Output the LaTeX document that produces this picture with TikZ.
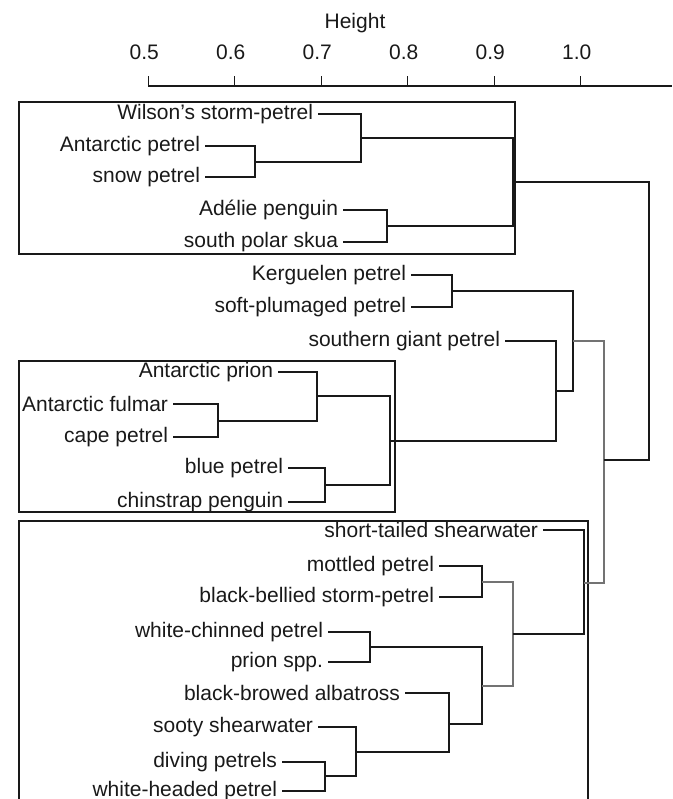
\documentclass[tikz,border=0pt]{standalone}
\usepackage{fontspec}
\setmainfont{Liberation Sans}
\usepackage{tikz}

\tikzset{
  leaf/.style={anchor=mid east, inner sep=0pt, outer xsep=5pt, yshift=-2.5pt, text=black!90,
    font=\fontsize{21}{25}\selectfont},
  den/.style={line width=1.9pt, draw=black!90},
  faint/.style={line width=1.1pt, draw=black!55},
  grp/.style={line width=2.4pt, draw=black!90},
}

\begin{document}
\begin{tikzpicture}[x=1pt, y=-1pt]
    \useasboundingbox (0,0) rectangle (672,799);
    \clip (0,0) rectangle (672,799);

    % axis
    \node[font=\fontsize{21}{25}\selectfont, text=black!90] (ttl) at (355,23) {Height};
    \draw[line width=1.8pt, black!90] (148.3,86) -- (672,86);
    \foreach \v [count=\i from 0] in {0.5,0.6,0.7,0.8,0.9,1.0} {
        \draw[line width=1.3pt, black!90] (148.3+86.5*\i,86) -- (148.3+86.5*\i,76);
        \node[font=\fontsize{21}{25}\selectfont, text=black!90] at (144.3+86.5*\i,52) {\v};
    }

    % boxes round the three groups
    \draw[grp] (19,102) rectangle (515,254);
    \draw[grp] (19,361) rectangle (395,512);
    \draw[grp] (19,521) rectangle (588,840);

    % leaves
    \node[leaf] (wsp) at (318,114) {Wilson’s storm-petrel};
    \node[leaf] (antp) at (205,146) {Antarctic petrel};
    \node[leaf] (snow) at (205,177) {snow petrel};
    \node[leaf] (adel) at (343,210) {Adélie penguin};
    \node[leaf] (skua) at (343,242) {south polar skua};
    \node[leaf] (kerg) at (411,275) {Kerguelen petrel};
    \node[leaf] (soft) at (411,307) {soft-plumaged petrel};
    \node[leaf] (sgp) at (505,341) {southern giant petrel};
    \node[leaf] (aprn) at (278,372) {Antarctic prion};
    \node[leaf] (fulm) at (173,406) {Antarctic fulmar};
    \node[leaf] (cape) at (173,437) {cape petrel};
    \node[leaf] (blue) at (288,468) {blue petrel};
    \node[leaf] (chin) at (288,502) {chinstrap penguin};
    \node[leaf] (sts) at (543,532) {short-tailed shearwater};
    \node[leaf] (mott) at (439,566) {mottled petrel};
    \node[leaf] (bbsp) at (439,597) {black-bellied storm-petrel};
    \node[leaf] (wcp) at (328,632) {white-chinned petrel};
    \node[leaf] (prion) at (328,662) {prion spp.};
    \node[leaf] (bba) at (405,695) {black-browed albatross};
    \node[leaf] (soot) at (318,727) {sooty shearwater};
    \node[leaf] (dive) at (282,762) {diving petrels};
    \node[leaf] (whp) at (282,791) {white-headed petrel};

    % junctions
    \coordinate (j1) at (255,162);
    \coordinate (j2) at (361,138);
    \coordinate (j4) at (387,226);
    \coordinate (j3) at (513,182);
    \coordinate (jE) at (452,291);
    \coordinate (jJ) at (218,421);
    \coordinate (jH) at (317,396);
    \coordinate (jI) at (325,485);
    \coordinate (jG) at (390,441);
    \coordinate (jF) at (556,391);
    \coordinate (jC) at (573,341);
    \coordinate (jL) at (482,582);
    \coordinate (jN) at (370,647);
    \coordinate (jQ) at (325,776);
    \coordinate (jP) at (356,752);
    \coordinate (jO) at (449,724);
    \coordinate (jM) at (482,686);
    \coordinate (jK) at (513,634);
    \coordinate (jD) at (584,583);
    \coordinate (jB) at (604,460);
    \coordinate (root) at (649,321);

    % top group
    \draw[den] (antp.east) -| (j1) |- (snow.east);
    \draw[den] (wsp.east) -| (j2) |- (j1);
    \draw[den] (adel.east) -| (j4) |- (skua.east);
    \draw[den] (j2) -| (j3) |- (j4);

    % middle group
    \draw[den] (kerg.east) -| (jE) |- (soft.east);
    \draw[den] (fulm.east) -| (jJ) |- (cape.east);
    \draw[den] (aprn.east) -| (jH) |- (jJ);
    \draw[den] (blue.east) -| (jI) |- (chin.east);
    \draw[den] (jH) -| (jG) |- (jI);
    \draw[den] (sgp.east) -| (jF) |- (jG);
    \draw[den] (jE) -| (jC) |- (jF);

    % bottom group
    \draw[den] (mott.east) -| (jL) |- (bbsp.east);
    \draw[den] (wcp.east) -| (jN) |- (prion.east);
    \draw[den] (dive.east) -| (jQ) |- (whp.east);
    \draw[den] (soot.east) -| (jP) |- (jQ);
    \draw[den] (bba.east) -| (jO) |- (jP);
    \draw[den] (jN) -| (jM) |- (jO);
    \draw[faint] (jL) -| (jK) |- (jM);
    \draw[den] (sts.east) -| (jD) |- (jK);

    % upper links
    \draw[faint] (jC) -| (jB) |- (jD);
    \draw[den] (j3) -| (root) |- (jB);
\end{tikzpicture}
\end{document}
